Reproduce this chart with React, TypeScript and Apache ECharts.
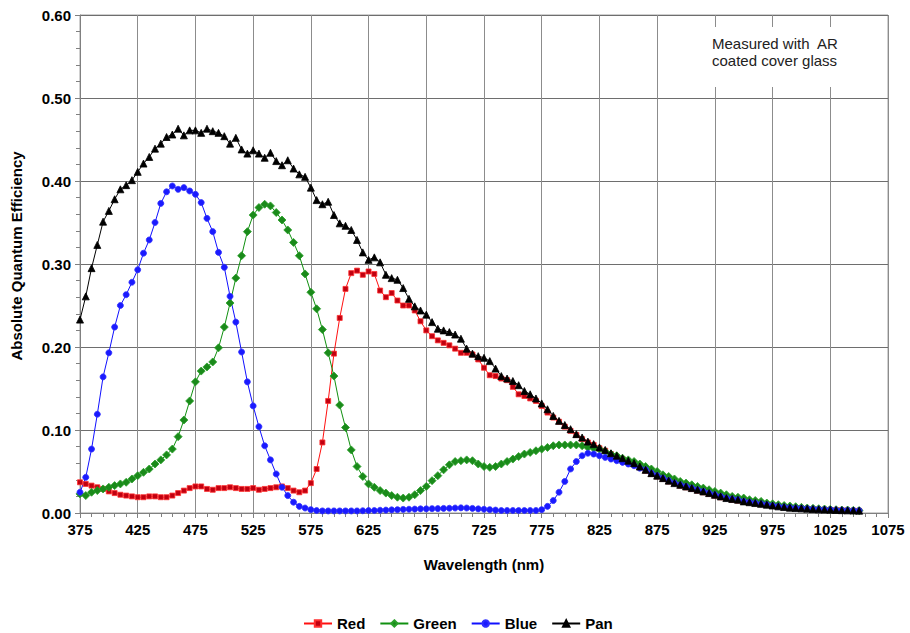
import React, { useEffect, useRef } from "react";
import * as echarts from "echarts";

const wavelengths = [
  375, 380, 385, 390, 395, 400, 405, 410, 415, 420,
  425, 430, 435, 440, 445, 450, 455, 460, 465, 470,
  475, 480, 485, 490, 495, 500, 505, 510, 515, 520,
  525, 530, 535, 540, 545, 550, 555, 560, 565, 570,
  575, 580, 585, 590, 595, 600, 605, 610, 615, 620,
  625, 630, 635, 640, 645, 650, 655, 660, 665, 670,
  675, 680, 685, 690, 695, 700, 705, 710, 715, 720,
  725, 730, 735, 740, 745, 750, 755, 760, 765, 770,
  775, 780, 785, 790, 795, 800, 805, 810, 815, 820,
  825, 830, 835, 840, 845, 850, 855, 860, 865, 870,
  875, 880, 885, 890, 895, 900, 905, 910, 915, 920,
  925, 930, 935, 940, 945, 950, 955, 960, 965, 970,
  975, 980, 985, 990, 995, 1000, 1005, 1010, 1015, 1020,
  1025, 1030, 1035, 1040, 1045, 1050,
];

const redQE = [
  0.037, 0.035, 0.033, 0.031, 0.029, 0.026, 0.024, 0.022, 0.021, 0.020,
  0.019, 0.019, 0.020, 0.020, 0.019, 0.019, 0.021, 0.024, 0.027, 0.030,
  0.032, 0.032, 0.029, 0.028, 0.030, 0.030, 0.031, 0.030, 0.029, 0.029,
  0.030, 0.028, 0.029, 0.030, 0.031, 0.032, 0.030, 0.027, 0.025, 0.027,
  0.036, 0.053, 0.085, 0.135, 0.192, 0.235, 0.270, 0.289, 0.292, 0.287,
  0.291, 0.288, 0.268, 0.260, 0.265, 0.256, 0.250, 0.250, 0.244, 0.231,
  0.220, 0.213, 0.208, 0.205, 0.202, 0.198, 0.193, 0.193, 0.191, 0.185,
  0.175, 0.166, 0.165, 0.162, 0.160, 0.152, 0.143, 0.141, 0.138, 0.135,
  0.129, 0.121, 0.115, 0.110, 0.104, 0.099, 0.094, 0.089, 0.085, 0.082,
  0.078, 0.075, 0.071, 0.068, 0.065, 0.062, 0.059, 0.055, 0.051, 0.047,
  0.044, 0.041, 0.038, 0.036, 0.033, 0.031, 0.029, 0.027, 0.025, 0.023,
  0.021, 0.019, 0.018, 0.016, 0.015, 0.014, 0.013, 0.012, 0.011, 0.010,
  0.009, 0.008, 0.0072, 0.0064, 0.006, 0.0055, 0.005, 0.0046, 0.0043, 0.004,
  0.0038, 0.0035, 0.0033, 0.003, 0.0028, 0.0026,
];

const greenQE = [
  0.023, 0.021, 0.025, 0.027, 0.029, 0.031, 0.033, 0.035, 0.037, 0.041,
  0.045, 0.049, 0.053, 0.059, 0.064, 0.070, 0.077, 0.092, 0.112, 0.135,
  0.158, 0.171, 0.176, 0.182, 0.199, 0.224, 0.253, 0.283, 0.310, 0.339,
  0.359, 0.368, 0.372, 0.370, 0.362, 0.353, 0.341, 0.326, 0.310, 0.288,
  0.266, 0.246, 0.221, 0.193, 0.165, 0.130, 0.103, 0.076, 0.056, 0.044,
  0.035, 0.031, 0.027, 0.024, 0.021, 0.019, 0.018, 0.019, 0.022, 0.027,
  0.032, 0.039, 0.045, 0.052, 0.058, 0.062, 0.063, 0.064, 0.063, 0.059,
  0.056, 0.055, 0.056, 0.059, 0.062, 0.065, 0.068, 0.071, 0.073, 0.075,
  0.077, 0.079, 0.081, 0.082, 0.082, 0.082, 0.082, 0.081, 0.079, 0.078,
  0.077, 0.074, 0.071, 0.069, 0.066, 0.064, 0.062, 0.059, 0.056, 0.053,
  0.050, 0.046, 0.044, 0.041, 0.038, 0.036, 0.034, 0.032, 0.030, 0.028,
  0.026, 0.024, 0.022, 0.020, 0.019, 0.018, 0.016, 0.015, 0.014, 0.012,
  0.011, 0.010, 0.009, 0.0084, 0.0076, 0.0068, 0.006, 0.0056, 0.0052, 0.0048,
  0.0044, 0.004, 0.0036, 0.0036, 0.0032, 0.003,
];

const blueQE = [
  0.025, 0.043, 0.077, 0.119, 0.164, 0.193, 0.224, 0.250, 0.263, 0.278,
  0.293, 0.313, 0.329, 0.350, 0.373, 0.387, 0.394, 0.390, 0.392, 0.388,
  0.384, 0.374, 0.355, 0.339, 0.314, 0.296, 0.261, 0.230, 0.194, 0.158,
  0.129, 0.104, 0.081, 0.064, 0.047, 0.031, 0.021, 0.013, 0.008, 0.006,
  0.004, 0.003, 0.0025, 0.0025, 0.0025, 0.0025, 0.0025, 0.0025, 0.0025, 0.0027,
  0.003, 0.003, 0.0033, 0.0035, 0.0038, 0.004, 0.0043, 0.0045, 0.0047, 0.005,
  0.005, 0.0052, 0.0053, 0.0055, 0.0057, 0.006, 0.0062, 0.006, 0.0055, 0.005,
  0.0045, 0.004, 0.0035, 0.003, 0.003, 0.003, 0.003, 0.003, 0.003, 0.003,
  0.004, 0.008, 0.015, 0.025, 0.038, 0.053, 0.062, 0.069, 0.072, 0.071,
  0.069, 0.067, 0.065, 0.063, 0.061, 0.059, 0.057, 0.054, 0.052, 0.048,
  0.045, 0.042, 0.039, 0.036, 0.034, 0.032, 0.030, 0.028, 0.026, 0.024,
  0.022, 0.020, 0.018, 0.017, 0.016, 0.014, 0.013, 0.012, 0.011, 0.010,
  0.009, 0.008, 0.0072, 0.0064, 0.006, 0.0056, 0.0052, 0.0048, 0.0044, 0.0042,
  0.004, 0.0036, 0.0034, 0.0032, 0.003, 0.0028,
];

const panQE = [
  0.233, 0.261, 0.295, 0.323, 0.351, 0.364, 0.378, 0.390, 0.395, 0.401,
  0.411, 0.421, 0.429, 0.439, 0.445, 0.453, 0.456, 0.463, 0.455, 0.461,
  0.461, 0.458, 0.463, 0.460, 0.458, 0.454, 0.445, 0.452, 0.438, 0.433,
  0.437, 0.433, 0.428, 0.434, 0.424, 0.419, 0.425, 0.415, 0.408, 0.405,
  0.392, 0.377, 0.372, 0.375, 0.359, 0.349, 0.346, 0.341, 0.329, 0.314,
  0.305, 0.308, 0.302, 0.287, 0.283, 0.281, 0.271, 0.258, 0.249, 0.244,
  0.239, 0.230, 0.222, 0.220, 0.218, 0.215, 0.210, 0.198, 0.192, 0.189,
  0.187, 0.183, 0.174, 0.165, 0.162, 0.159, 0.154, 0.147, 0.143, 0.138,
  0.132, 0.125, 0.117, 0.111, 0.106, 0.101, 0.095, 0.091, 0.086, 0.083,
  0.079, 0.076, 0.072, 0.069, 0.066, 0.063, 0.060, 0.056, 0.052, 0.048,
  0.045, 0.042, 0.039, 0.036, 0.034, 0.032, 0.030, 0.028, 0.026, 0.024,
  0.022, 0.020, 0.018, 0.017, 0.016, 0.014, 0.013, 0.012, 0.011, 0.010,
  0.009, 0.008, 0.0072, 0.0064, 0.006, 0.0056, 0.0052, 0.0048, 0.0044, 0.0042,
  0.004, 0.0036, 0.0034, 0.0032, 0.003, 0.0028,
];

const seriesNames = ["Red", "Green", "Blue", "Pan"];
const annotationLines = ["Measured with  AR", "coated cover glass"];
const xAxisTitle = "Wavelength (nm)";
const yAxisTitle = "Absolute Quantum Efficiency";

const FONT = "'Liberation Sans', Arial, sans-serif";

function pairs(vals: number[]) {
  return wavelengths.map((w, i) => [w, vals[i]]);
}

export default function App() {
  const ref = useRef<HTMLDivElement>(null);

  useEffect(() => {
    if (!ref.current) return;
    const chart = echarts.init(ref.current, undefined, { renderer: "svg" });

    const mk = (
      name: string,
      vals: number[],
      lineColor: string,
      fill: string,
      border: string,
      symbol: string,
      size: number
    ) => ({
      name,
      type: "line",
      data: pairs(vals),
      symbol,
      symbolSize: size,
      showSymbol: true,
      lineStyle: { color: lineColor, width: 1 },
      itemStyle: { color: fill, borderColor: border, borderWidth: 0.8 },
      emphasis: { disabled: true },
    });

    chart.setOption({
      animation: false,
      backgroundColor: "#ffffff",
      textStyle: { fontFamily: FONT },
      grid: {
        left: 80,
        right: 22,
        top: 15,
        bottom: 120,
        show: true,
        borderColor: "#a0a0a0",
        borderWidth: 1,
        backgroundColor: "transparent",
      },
      legend: {
        data: seriesNames,
        left: 298,
        top: 611,
        itemWidth: 28,
        itemHeight: 8,
        itemGap: 14,
        textStyle: {
          fontFamily: FONT,
          fontSize: 15,
          fontWeight: "bold",
          color: "#000",
        },
      },
      xAxis: {
        type: "value",
        min: 375,
        max: 1075,
        interval: 50,
        name: xAxisTitle,
        nameLocation: "middle",
        nameGap: 44,
        nameTextStyle: {
          fontFamily: FONT,
          fontSize: 15,
          fontWeight: "bold",
          color: "#000",
        },
        axisLine: { show: true, lineStyle: { color: "#808080", width: 1 } },
        axisTick: { show: true, length: 5, lineStyle: { color: "#808080" } },
        minorTick: {
          show: true,
          splitNumber: 5,
          length: 4,
          lineStyle: { color: "#808080" },
        },
        axisLabel: {
          fontFamily: FONT,
          fontSize: 15,
          fontWeight: "bold",
          color: "#000",
          margin: 9,
          formatter: (v: number) => String(v),
        },
        splitLine: { show: true, lineStyle: { color: "#8c8c8c", width: 1 } },
      },
      yAxis: {
        type: "value",
        min: 0,
        max: 0.6,
        interval: 0.1,
        name: yAxisTitle,
        nameLocation: "middle",
        nameGap: 56,
        nameRotate: 90,
        nameTextStyle: {
          fontFamily: FONT,
          fontSize: 15,
          fontWeight: "bold",
          color: "#000",
          padding: [0, 0, 0, 16],
        },
        axisLine: { show: true, lineStyle: { color: "#808080", width: 1 } },
        axisTick: { show: true, length: 5, lineStyle: { color: "#808080" } },
        minorTick: {
          show: true,
          splitNumber: 5,
          length: 4,
          lineStyle: { color: "#808080" },
        },
        axisLabel: {
          fontFamily: FONT,
          fontSize: 15,
          fontWeight: "bold",
          color: "#000",
          margin: 9,
          formatter: (v: number) => v.toFixed(2),
        },
        splitLine: { show: true, lineStyle: { color: "#6e6e6e", width: 1 } },
      },
      graphic: [
        {
          type: "rect",
          z: 100,
          shape: { x: 700, y: 27, width: 183, height: 60 },
          style: { fill: "#ffffff" },
          silent: true,
        },
        {
          type: "text",
          z: 101,
          x: 712,
          y: 35,
          style: {
            text: annotationLines.join("\n"),
            fontFamily: FONT,
            fontSize: 15,
            lineHeight: 17,
            fill: "#222",
          },
          silent: true,
        },
      ],
      series: [
        mk("Red", redQE, "#ff1010", "#c00010", "#ff3030", "rect", 5),
        mk("Green", greenQE, "#109010", "#1a8a1a", "#2aa02a", "diamond", 8),
        mk("Blue", blueQE, "#1010ff", "#1a1aff", "#3030ff", "circle", 6),
        mk("Pan", panQE, "#000000", "#000000", "#000000", "triangle", 7),
      ],
    });

    return () => chart.dispose();
  }, []);

  return (
    <div
      ref={ref}
      style={{ position: "fixed", left: 0, top: 0, width: 910, height: 633 }}
    />
  );
}
